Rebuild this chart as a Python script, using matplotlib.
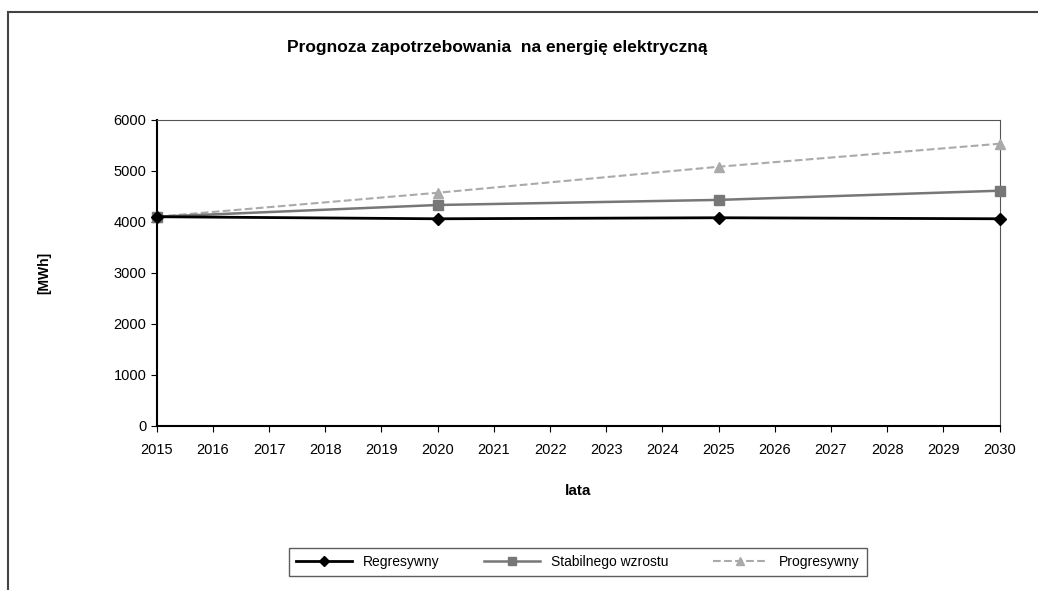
import matplotlib.pyplot as plt
from matplotlib.patches import Rectangle

years = [2015, 2020, 2025, 2030]
regresywny = [4100, 4060, 4080, 4060]
stabilnego = [4100, 4330, 4430, 4610]
progresywny = [4100, 4570, 5080, 5530]

plt.rcParams['font.family'] = ['Liberation Sans', 'DejaVu Sans']

fig = plt.figure(figsize=(10.38, 5.9), dpi=100)
ax = fig.add_axes([0.151, 0.278, 0.812, 0.519])

ax.plot(years, regresywny, color='black', lw=2, marker='D', ms=6, label='Regresywny', clip_on=False, zorder=5)
ax.plot(years, stabilnego, color='#777777', lw=1.8, marker='s', ms=7, label='Stabilnego wzrostu', clip_on=False, zorder=4)
ax.plot(years, progresywny, color='#aaaaaa', lw=1.5, ls='--', marker='^', ms=7, label='Progresywny', clip_on=False, zorder=3)

ax.set_xlim(2015, 2030)
ax.set_ylim(0, 6000)
ax.set_xticks(range(2015, 2031))
ax.set_yticks(range(0, 6001, 1000))
ax.tick_params(labelsize=10.5, direction='out', length=4)
ax.tick_params(axis='x', pad=8)
ax.spines['right'].set_color('#555555')
ax.spines['top'].set_color('#555555')
ax.spines['left'].set_linewidth(1.5)
ax.spines['bottom'].set_linewidth(1.5)

ax.set_xlabel('lata', fontsize=11, fontweight='bold', labelpad=20)
ax.set_ylabel('[MWh]', fontsize=10, fontweight='bold', labelpad=45)

fig.text(0.479, 0.92, 'Prognoza zapotrzebowania  na energię elektryczną',
         ha='center', va='center', fontsize=12.5, fontweight='bold')

fig.legend(loc='center', bbox_to_anchor=(0.557, 0.047), ncol=3, fontsize=10,
           frameon=True, fancybox=False, edgecolor='#333333', handlelength=4,
           columnspacing=3.2, borderpad=0.5, markerscale=0.8)

fig.patches.append(Rectangle((8 / 1038, -0.1), 1.2, 1.1 - 12 / 590,
                             transform=fig.transFigure, fill=False,
                             edgecolor='#444444', lw=1.5))

fig.savefig('out.png', dpi=100)
